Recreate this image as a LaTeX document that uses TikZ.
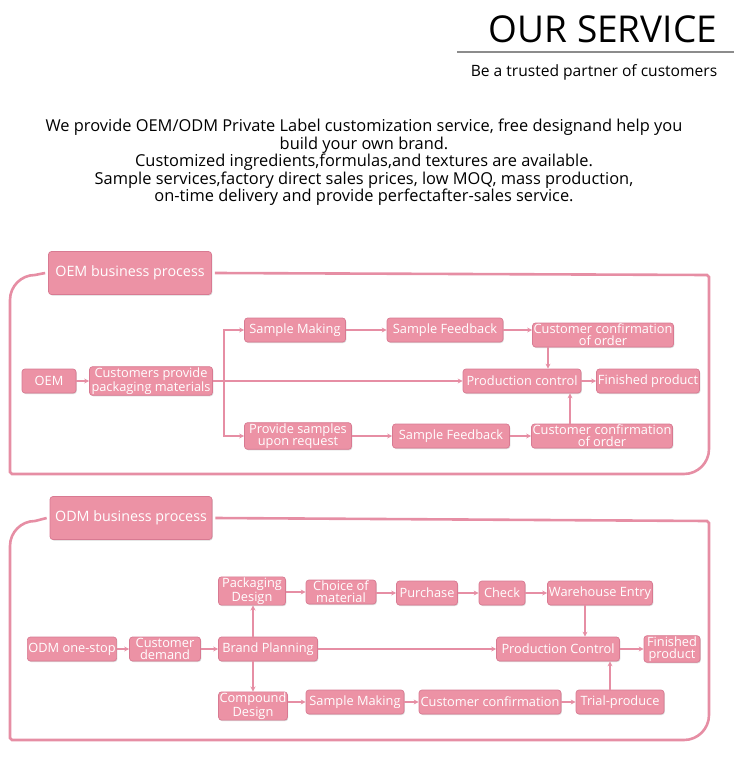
\documentclass[tikz,border=0pt]{standalone}
\usepackage{fontspec}
\setmainfont{Open Sans}
\usetikzlibrary{arrows.meta,shadows}

\definecolor{boxpink}{RGB}{236,146,165}
\definecolor{edgepink}{RGB}{216,122,146}
\definecolor{linepink}{RGB}{230,142,164}

\begin{document}
\begin{tikzpicture}[x=1pt, y=-1pt,
                    proc/.style={rectangle, rounded corners=3pt, fill=boxpink, draw=edgepink, line width=0.7pt,
                                 text=white, align=center, inner sep=1pt, minimum height=24pt,
                                 font=\fontsize{12.8}{11.8}\selectfont,
                                 drop shadow={shadow xshift=0.8pt, shadow yshift=-1pt, opacity=0.3, fill=black!50}},
                    headbox/.style={proc, minimum height=43pt, font=\fontsize{14.3}{16}\selectfont},
                    flow/.style={draw=linepink, line width=1.8pt, -{Stealth[length=5pt, width=5pt]}},
                    link/.style={draw=linepink, line width=1.8pt},
                    frame/.style={draw=linepink, line width=2.6pt}]
                    \useasboundingbox (0,0) rectangle (734,762);
                    % heading
                    \node[font=\fontsize{37}{40}\selectfont] (title) at (603,29) {OUR SERVICE};
                    \draw[black!45, line width=1.4pt] (457,52) -- (734,52);
                    \node[font=\fontsize{15.6}{17}\selectfont] (subtitle) at (594,72.5) {Be a trusted partner of customers};
                    \node[align=center, font=\fontsize{16.4}{15.5}\selectfont] (intro) at (364,162.5)
                        {We provide OEM/ODM Private Label customization service, free designand help you\\
                         build your own brand.\\
                         Customized ingredients,formulas,and textures are available.\\
                         Sample services,factory direct sales prices, low MOQ, mass production,\\
                         on-time delivery and provide perfectafter-sales service.};
                    % OEM business process
                    \node[headbox, minimum width=163] (oemhead) at (130,273) {OEM business process};
                    \draw[frame] ([xshift=-3pt]oemhead.west) -- (35,275) .. controls (21.2,275) and (10,286.2) .. (10,300)
                        -- (10,472) -- (12,474) -- (684,474) .. controls (697.8,474) and (709,462.8) .. (709,449)
                        -- (709,277) -- (707,275) -- ([xshift=3pt]oemhead.east);
                    \node[proc, minimum width=54] (oem) at (49,381) {OEM};
                    \node[proc, minimum width=123] (custpack) at (151,381) {Customers provide\\packaging materials};
                    \node[proc, minimum width=101] (makeA) at (295,330) {Sample Making};
                    \node[proc, minimum width=107] (provide) at (298,436) {Provide samples\\upon request};
                    \node[proc, minimum width=116] (feedA) at (445,330) {Sample Feedback};
                    \node[proc, minimum width=141] (confA) at (603,335) {Customer confirmation\\of order};
                    \node[proc, minimum width=118] (prodA) at (522,381) {Production control};
                    \node[proc, minimum width=103] (finA) at (648,381) {Finished product};
                    \node[proc, minimum width=117] (feedB) at (451,436) {Sample Feedback};
                    \node[proc, minimum width=141] (confB) at (602,436) {Customer confirmation\\of order};
                    \coordinate (forkA) at (224,381);
                    \draw[flow] (oem) -- (custpack);
                    \draw[link] (custpack) -- (forkA);
                    \draw[flow] (forkA) |- (makeA);
                    \draw[flow] (forkA) |- (provide);
                    \draw[flow] (forkA) -- (prodA);
                    \draw[flow] (makeA) -- (feedA);
                    \draw[flow] (feedA.east) -- (feedA.east -| confA.west);
                    \draw[flow] ([xshift=-55pt]confA.south) -- ([xshift=-55pt]confA.south |- prodA.north);
                    \draw[flow] (prodA) -- (finA);
                    \draw[flow] (provide) -- (feedB);
                    \draw[flow] (feedB) -- (confB);
                    \draw[flow] ([xshift=-32pt]confB.north) -- ([xshift=-32pt]confB.north |- prodA.south);
                    % ODM business process
                    \node[headbox, minimum width=162] (odmhead) at (131,518) {ODM business process};
                    \draw[frame] ([xshift=-3pt]odmhead.west) -- (35,521) .. controls (21.2,521) and (10,532.2) .. (10,546)
                        -- (10,738) -- (12,740) -- (684,740) .. controls (697.8,740) and (709,728.8) .. (709,715)
                        -- (709,523) -- (707,521) -- ([xshift=3pt]odmhead.east);
                    \node[proc, minimum width=89] (onestop) at (72,649) {ODM one-stop};
                    \node[proc, minimum width=71] (demand) at (165,649) {Customer\\demand};
                    \node[proc, minimum width=99] (brand) at (268,649) {Brand Planning};
                    \node[proc, minimum width=67] (packdes) at (252,591) {Packaging\\Design};
                    \node[proc, minimum width=70] (choice) at (341,592) {Choice of\\material};
                    \node[proc, minimum width=61] (purchase) at (427,593) {Purchase};
                    \node[proc, minimum width=46] (check) at (502,593) {Check};
                    \node[proc, minimum width=105] (entry) at (600,593) {Warehouse Entry};
                    \node[proc, minimum width=123] (prodB) at (558,649) {Production Control};
                    \node[proc, minimum width=56] (finB) at (672,649) {Finished\\product};
                    \node[proc, minimum width=68] (compound) at (253,706) {Compound\\Design};
                    \node[proc, minimum width=98] (makeB) at (355,702) {Sample Making};
                    \node[proc, minimum width=142] (confC) at (490,702) {Customer confirmation};
                    \node[proc, minimum width=88] (trial) at (620,702) {Trial-produce};
                    \draw[flow] (onestop) -- (demand);
                    \draw[flow] (demand) -- (brand);
                    \draw[flow] ([xshift=-15pt]brand.north) -- ([xshift=-15pt]brand.north |- packdes.south);
                    \draw[flow] ([xshift=-15pt]brand.south) -- ([xshift=-15pt]brand.south |- compound.north);
                    \draw[flow] (brand) -- (prodB);
                    \draw[flow] (packdes.east |- choice) -- (choice);
                    \draw[flow] (choice.east |- purchase) -- (purchase);
                    \draw[flow] (purchase) -- (check);
                    \draw[flow] (check) -- (entry);
                    \draw[flow] ([xshift=-15pt]entry.south) -- ([xshift=-15pt]entry.south |- prodB.north);
                    \draw[flow] (prodB) -- (finB);
                    \draw[flow] (compound.east |- makeB) -- (makeB);
                    \draw[flow] (makeB) -- (confC);
                    \draw[flow] (confC) -- (trial);
                    \draw[flow] ([xshift=-10pt]trial.north) -- ([xshift=-10pt]trial.north |- prodB.south);
                \end{tikzpicture}
\end{document}
